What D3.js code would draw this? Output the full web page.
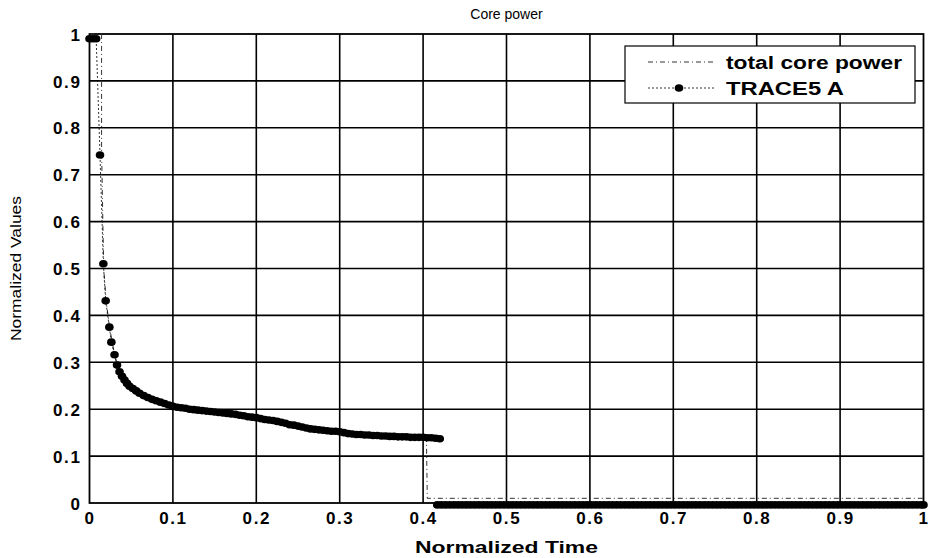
<!DOCTYPE html>
<html>
<head>
<meta charset="utf-8">
<script src="https://cdn.jsdelivr.net/npm/d3@7"></script>
<style>
html,body{margin:0;padding:0;background:#fff;}
svg{display:block;}
</style>
</head>
<body>
<div id="chart"></div>
<script>
// ---- data ----
const chartTitle = "Core power";
const xLabel = "Normalized Time";
const yLabel = "Normalized Values";
const seriesNames = ["total core power", "TRACE5 A"];
const xTicks = [0, 0.1, 0.2, 0.3, 0.4, 0.5, 0.6, 0.7, 0.8, 0.9, 1];
const yTicks = [0, 0.1, 0.2, 0.3, 0.4, 0.5, 0.6, 0.7, 0.8, 0.9, 1];

// TRACE5 A markers (before the drop)
const traceTime = [0.000,0.004,0.008,0.0126,0.0166,0.0194,0.0238,0.0262,0.030,0.033,0.036,0.039,0.042,0.045,0.048,0.052,0.056,0.060,0.065,0.070,0.075,0.080,0.085,0.090,0.095,0.100,0.105,0.110,0.115,0.120,0.125,0.130,0.135,0.140,0.145,0.150,0.155,0.160,0.165,0.170,0.175,0.180,0.185,0.190,0.195,0.200,0.205,0.210,0.215,0.220,0.225,0.230,0.235,0.240,0.245,0.250,0.255,0.260,0.265,0.270,0.275,0.280,0.285,0.290,0.295,0.300,0.305,0.310,0.315,0.320,0.325,0.330,0.335,0.340,0.345,0.350,0.355,0.360,0.365,0.370,0.375,0.380,0.385,0.390,0.395,0.400,0.405,0.410,0.415,0.420];
const traceValue = [0.990,0.990,0.990,0.742,0.510,0.431,0.375,0.343,0.316,0.294,0.280,0.270,0.262,0.255,0.249,0.244,0.239,0.234,0.229,0.225,0.221,0.218,0.215,0.212,0.209,0.206,0.204,0.203,0.202,0.200,0.199,0.198,0.197,0.196,0.195,0.194,0.193,0.192,0.191,0.190,0.189,0.187,0.186,0.184,0.183,0.182,0.180,0.178,0.177,0.176,0.174,0.172,0.170,0.167,0.166,0.164,0.162,0.160,0.158,0.157,0.156,0.155,0.154,0.153,0.153,0.152,0.150,0.148,0.147,0.146,0.146,0.145,0.145,0.144,0.144,0.143,0.143,0.142,0.142,0.141,0.141,0.141,0.140,0.140,0.140,0.140,0.139,0.139,0.138,0.137];

// TRACE5 A markers after the drop (sitting just below zero)
const zeroTime = [0.417,0.422,0.427,0.432,0.437,0.442,0.447,0.452,0.457,0.462,0.467,0.472,0.477,0.482,0.487,0.492,0.497,0.502,0.507,0.512,0.517,0.522,0.527,0.532,0.537,0.542,0.547,0.552,0.557,0.562,0.567,0.572,0.577,0.582,0.587,0.592,0.597,0.602,0.607,0.612,0.617,0.622,0.627,0.632,0.637,0.642,0.647,0.652,0.657,0.662,0.667,0.672,0.677,0.682,0.687,0.692,0.697,0.702,0.707,0.712,0.717,0.722,0.727,0.732,0.737,0.742,0.747,0.752,0.757,0.762,0.767,0.772,0.777,0.782,0.787,0.792,0.797,0.802,0.807,0.812,0.817,0.822,0.827,0.832,0.837,0.842,0.847,0.852,0.857,0.862,0.867,0.872,0.877,0.882,0.887,0.892,0.897,0.902,0.907,0.912,0.917,0.922,0.927,0.932,0.937,0.942,0.947,0.952,0.957,0.962,0.967,0.972,0.977,0.982,0.987,0.992,0.997,1.000];
const zeroValue = -0.004;

// total core power (thin dash-dot line)
const coreTime  = [0.000,0.0145,0.0145,0.0160,0.0170,0.0200,0.0240,0.030,0.036,0.045,0.056,0.070,0.085,0.100,0.120,0.150,0.180,0.200,0.220,0.240,0.260,0.280,0.300,0.320,0.340,0.360,0.380,0.400,0.404,0.405,1.000];
const coreValue = [1.000,1.000,0.750,0.600,0.500,0.430,0.375,0.316,0.280,0.255,0.239,0.225,0.215,0.206,0.200,0.194,0.187,0.182,0.176,0.167,0.160,0.155,0.152,0.146,0.144,0.142,0.141,0.140,0.139,0.010,0.010];

// ---- drawing ----
const W = 932, H = 558;
const M = {left: 89.5, right: W - 923.5, top: 34, bottom: H - 503};
const svg = d3.select("#chart").append("svg").attr("width", W).attr("height", H);

const x = d3.scaleLinear().domain([0, 1]).range([M.left, W - M.right]);
const y = d3.scaleLinear().domain([0, 1]).range([H - M.bottom, M.top]);
const font = "'Liberation Sans', Arial, sans-serif";

// grid
const g = svg.append("g");
g.selectAll(".vg").data(xTicks.slice(1, -1)).join("line")
  .attr("x1", d => x(d)).attr("x2", d => x(d))
  .attr("y1", y(0)).attr("y2", y(1))
  .attr("stroke", "#000").attr("stroke-width", 1.6);
g.selectAll(".hg").data(yTicks.slice(1, -1)).join("line")
  .attr("x1", x(0)).attr("x2", x(1))
  .attr("y1", d => y(d)).attr("y2", d => y(d))
  .attr("stroke", "#000").attr("stroke-width", 1.6);

// axes with labels
const xAxis = d3.axisBottom(x).tickValues(xTicks).tickSize(0).tickPadding(9)
  .tickFormat(d3.format("~g"));
const yAxis = d3.axisLeft(y).tickValues(yTicks).tickSize(0).tickPadding(8)
  .tickFormat(d3.format("~g"));
const gx = svg.append("g").attr("transform", `translate(0,${y(0)})`).call(xAxis);
const gy = svg.append("g").attr("transform", `translate(${x(0)},0)`).call(yAxis);
[gx, gy].forEach(a => {
  a.select(".domain").remove();
  a.selectAll("text").attr("font-family", font).attr("font-weight", "bold")
    .attr("font-size", 17).attr("letter-spacing", 1.6).attr("fill", "#000");
});
gx.selectAll("text").attr("dy", "0.71em");
gy.selectAll("text").attr("dy", "0.36em");

// frame
svg.append("rect").attr("x", x(0)).attr("y", y(1))
  .attr("width", x(1) - x(0)).attr("height", y(0) - y(1))
  .attr("fill", "none").attr("stroke", "#000").attr("stroke-width", 1.8);

// total core power line
const coreLine = d3.line().x(d => x(d[0])).y(d => y(d[1]));
svg.append("path")
  .datum(coreTime.map((t, i) => [t, coreValue[i]]))
  .attr("d", coreLine).attr("fill", "none")
  .attr("stroke", "#333").attr("stroke-width", 1)
  .attr("stroke-dasharray", "5,3,1,3");

// TRACE5 A thin connecting line and markers
const tracePts = traceTime.map((t, i) => [t, traceValue[i]]);
const zeroPts = zeroTime.map(t => [t, zeroValue]);
svg.append("path").datum(tracePts).attr("d", coreLine).attr("fill", "none")
  .attr("stroke", "#000").attr("stroke-width", 0.8).attr("stroke-dasharray", "2,2");
svg.append("g").selectAll("ellipse").data(tracePts.concat(zeroPts)).join("ellipse")
  .attr("cx", d => x(d[0])).attr("cy", d => y(d[1]))
  .attr("rx", 4.3).attr("ry", 3.8).attr("fill", "#000");

// legend
const lg = svg.append("g");
lg.append("rect").attr("x", 625).attr("y", 46).attr("width", 290).attr("height", 57)
  .attr("fill", "#fff").attr("stroke", "#000").attr("stroke-width", 1.2);
lg.append("line").attr("x1", 648).attr("x2", 716).attr("y1", 62).attr("y2", 62)
  .attr("stroke", "#333").attr("stroke-width", 1).attr("stroke-dasharray", "5,3,1,3");
lg.append("line").attr("x1", 648).attr("x2", 716).attr("y1", 88).attr("y2", 88)
  .attr("stroke", "#000").attr("stroke-width", 0.8).attr("stroke-dasharray", "2,2");
lg.append("ellipse").attr("cx", 679).attr("cy", 88).attr("rx", 4.3).attr("ry", 3.8).attr("fill", "#000");
const legendWidths = [176, 118];
lg.selectAll("text").data(seriesNames).join("text")
  .attr("x", 726).attr("y", (d, i) => 69 + i * 26)
  .attr("font-family", font).attr("font-weight", "bold").attr("font-size", 18)
  .attr("textLength", (d, i) => legendWidths[i]).attr("lengthAdjust", "spacingAndGlyphs")
  .attr("fill", "#000").text(d => d);

// title & axis labels
svg.append("text").attr("x", (x(0) + x(1)) / 2).attr("y", 19).attr("text-anchor", "middle")
  .attr("font-family", font).attr("font-size", 14).attr("fill", "#000").text(chartTitle);
svg.append("text").attr("x", (x(0) + x(1)) / 2).attr("y", 553).attr("text-anchor", "middle")
  .attr("font-family", font).attr("font-weight", "bold").attr("font-size", 16)
  .attr("textLength", 183).attr("lengthAdjust", "spacingAndGlyphs")
  .attr("fill", "#000").text(xLabel);
svg.append("text").attr("transform", `translate(21,${(y(0) + y(1)) / 2}) rotate(-90)`)
  .attr("text-anchor", "middle").attr("font-family", font)
  .attr("font-size", 15).attr("textLength", 145).attr("lengthAdjust", "spacingAndGlyphs")
  .attr("fill", "#000").text(yLabel);
</script>
</body>
</html>
